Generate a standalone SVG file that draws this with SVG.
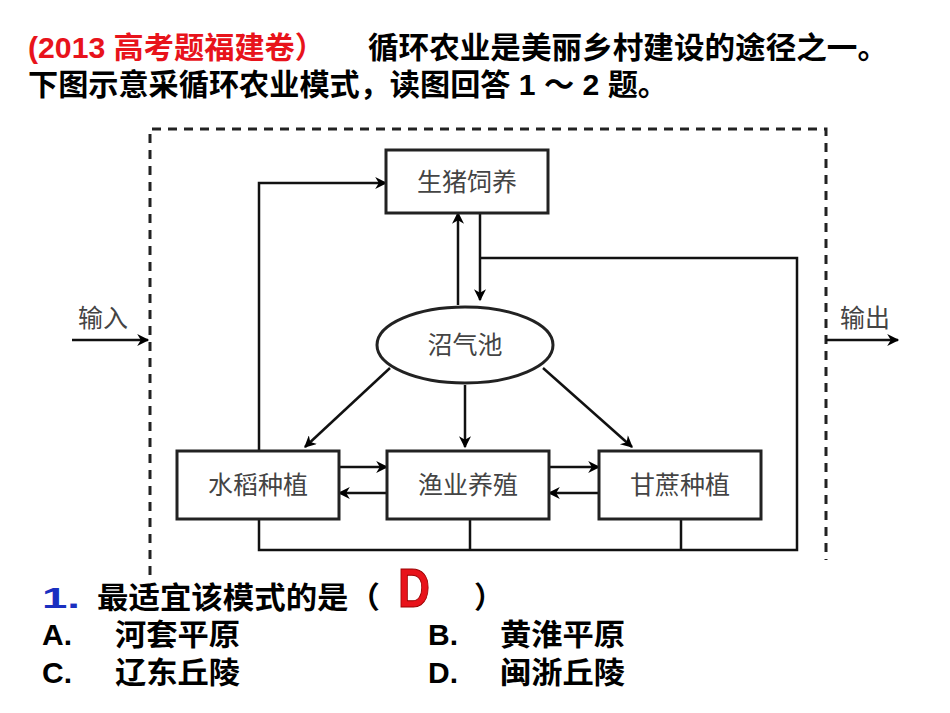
<svg xmlns="http://www.w3.org/2000/svg" width="950" height="713" viewBox="0 0 950 713">
<defs>
<marker id="ah2" viewBox="0 0 10 10" refX="9" refY="5" markerWidth="14" markerHeight="12" orient="auto" markerUnits="userSpaceOnUse"><path d="M0,0 L10,5 L0,10 L3,5 z" fill="#000"/></marker>
<style>
.t{font-family:"Liberation Sans","Noto Sans CJK SC",sans-serif;font-weight:bold;font-size:30px}
.n{font-family:"Noto Sans CJK SC",sans-serif;font-size:25px;fill:#444;text-anchor:middle}
.box{fill:#fff;stroke:#222;stroke-width:3}
.c{fill:none;stroke:#111;stroke-width:2.5}
.a{marker-end:url(#ah2)}
.d{fill:none;stroke:#222;stroke-width:3;stroke-dasharray:9 7}
</style>
</defs>
<rect width="950" height="713" fill="#fff"/>
<text class="t" x="28" y="58" fill="#e8131b" textLength="297" lengthAdjust="spacingAndGlyphs">(2013 高考题福建卷）</text>
<text class="t" x="368" y="58" textLength="520" lengthAdjust="spacingAndGlyphs">循环农业是美丽乡村建设的途径之一。</text>
<text class="t" x="28" y="95" textLength="640" lengthAdjust="spacingAndGlyphs">下图示意采循环农业模式，读图回答 1 ～ 2 题。</text>
<path class="d" d="M150,575 V129 H826 V560"/>
<g id="connectors">
<path class="c a" d="M259,451 V183 H386"/>
<path class="c a" d="M458,305 V213"/>
<path class="c a" d="M480,213 V300"/>
<path class="c" d="M480,258 H797 V550 H259 V519 M470,519 V550 M681,519 V550"/>
<path class="c a" d="M390,368 L305,447"/>
<path class="c a" d="M465,385 V447"/>
<path class="c a" d="M543,368 L632,447"/>
<path class="c a" d="M339,467 H387"/>
<path class="c a" d="M387,493 H339"/>
<path class="c a" d="M549,467 H599"/>
<path class="c a" d="M599,493 H549"/>
<path class="c a" d="M72,340 H148"/>
<path class="c a" d="M826,340 H898"/>
</g>
<text class="n" x="103" y="327">输入</text>
<text class="n" x="865" y="327">输出</text>
<g id="pig"><rect class="box" x="386" y="150" width="162" height="63"/><text class="n" x="467" y="191">生猪饲养</text></g>
<g id="biogas"><ellipse class="box" cx="465" cy="345" rx="88" ry="38"/><text class="n" x="465" y="354">沼气池</text></g>
<g id="rice"><rect class="box" x="177" y="451" width="162" height="68"/><text class="n" x="258" y="494">水稻种植</text></g>
<g id="fish"><rect class="box" x="387" y="451" width="162" height="68"/><text class="n" x="468" y="494">渔业养殖</text></g>
<g id="cane"><rect class="box" x="599" y="451" width="162" height="68"/><text class="n" x="680" y="494">甘蔗种植</text></g>
<text class="t" x="42" y="608" fill="#1a2fc0" textLength="38" lengthAdjust="spacingAndGlyphs">1.</text>
<text class="t" x="97" y="608" textLength="283" lengthAdjust="spacingAndGlyphs">最适宜该模式的是（</text>
<text x="398" y="607" font-family="Liberation Sans,sans-serif" font-weight="bold" font-size="56" fill="#e8131b" stroke="#900" stroke-width="1" textLength="32" lengthAdjust="spacingAndGlyphs">D</text>
<text class="t" x="474" y="608">）</text>
<text class="t" x="42" y="645">A.</text><text class="t" x="115" y="645" textLength="125" lengthAdjust="spacingAndGlyphs">河套平原</text>
<text class="t" x="428" y="645">B.</text><text class="t" x="500" y="645" textLength="125" lengthAdjust="spacingAndGlyphs">黄淮平原</text>
<text class="t" x="42" y="683">C.</text><text class="t" x="115" y="683" textLength="125" lengthAdjust="spacingAndGlyphs">辽东丘陵</text>
<text class="t" x="428" y="683">D.</text><text class="t" x="500" y="683" textLength="125" lengthAdjust="spacingAndGlyphs">闽浙丘陵</text>
</svg>
